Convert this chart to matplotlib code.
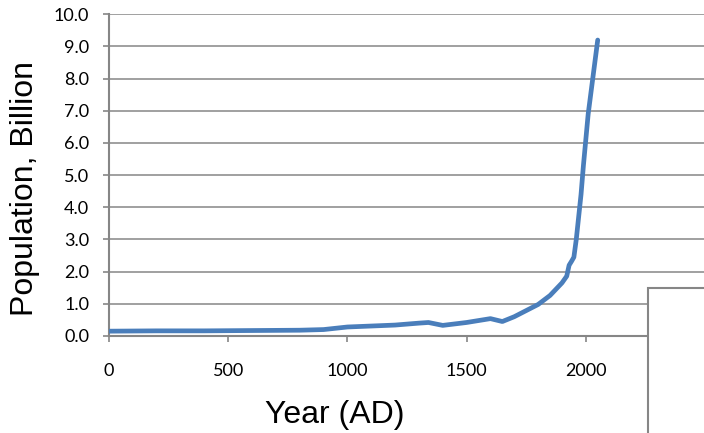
import matplotlib.pyplot as plt
from matplotlib.patches import Rectangle

# World population estimates (billions)
years = [1, 200, 400, 600, 800, 900, 1000, 1100, 1200, 1250, 1300, 1340, 1400,
         1500, 1600, 1650, 1700, 1750, 1800, 1850, 1900, 1920, 1930, 1940, 1950,
         1960, 1970, 1980, 1990, 2000, 2010, 2030, 2050]
population = [0.15, 0.16, 0.16, 0.17, 0.18, 0.2, 0.28, 0.31, 0.34, 0.37, 0.4, 0.42, 0.33,
              0.42, 0.54, 0.45, 0.6, 0.79, 0.98, 1.26, 1.65, 1.86, 2.2, 2.32, 2.45,
              3.0, 3.7, 4.4, 5.3, 6.1, 6.9, 8.05, 9.2]

xticks = [0, 500, 1000, 1500, 2000]
yticks = [i * 1.0 for i in range(11)]

grey = '#868686'

fig = plt.figure(figsize=(7.04, 4.33), dpi=100)
ax = fig.add_axes([109 / 704, 1 - 336 / 433, 596 / 704, (336 - 14.3) / 433])

ax.plot(years, population, color='#4A7EBB', linewidth=3.4, solid_capstyle='round',
        solid_joinstyle='round', zorder=3)

ax.set_xlim(0, 2500)
ax.set_ylim(0, 10)
ax.set_xticks(xticks)
ax.set_yticks(yticks)
ax.set_yticklabels([f'{v:.1f}' for v in yticks])
ax.grid(axis='y', color=grey, linewidth=1.1)
ax.set_axisbelow(True)

for side in ['top', 'right']:
    ax.spines[side].set_visible(False)
for side in ['left', 'bottom']:
    ax.spines[side].set_color(grey)
    ax.spines[side].set_linewidth(1.5)

ax.tick_params(axis='both', colors=grey, width=1.2, length=4.3, labelcolor='black',
               labelsize=13)
for lab in ax.get_xticklabels() + ax.get_yticklabels():
    lab.set_family('Lato')
ax.tick_params(axis='x', pad=15)
ax.tick_params(axis='y', pad=10)

fig.text(335 / 704, 1 - 415 / 433, 'Year (AD)', family='Liberation Sans', fontsize=23,
         ha='center', va='center')
fig.text(25 / 704, 1 - 188 / 433, 'Population, Billion', family='Liberation Sans',
         fontsize=23, rotation=90, ha='center', va='center')

# box partly outside the image at lower right
fig.patches.append(Rectangle((647.7 / 704, -0.1), 0.2, 0.1 + 1 - 288.3 / 433,
                             transform=fig.transFigure, facecolor='white',
                             edgecolor=grey, linewidth=1.5, zorder=5))

fig.savefig('out.png', dpi=100)
